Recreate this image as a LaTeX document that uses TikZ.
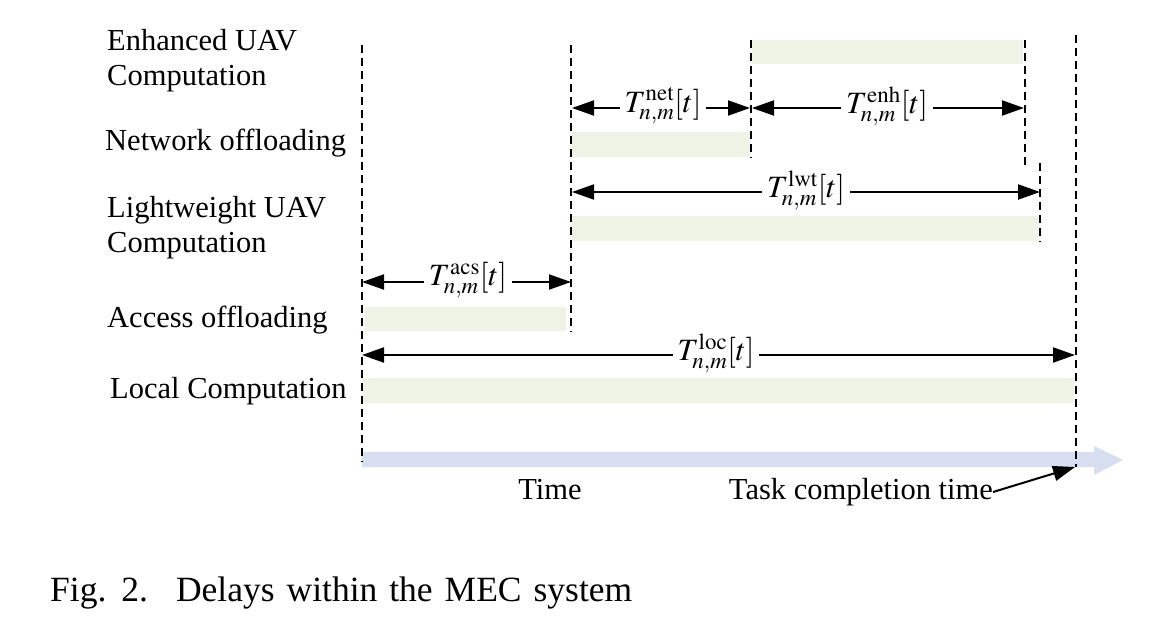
\documentclass[tikz,border=0pt]{standalone}
\usepackage{mathptmx}
\usepackage[no-math]{fontspec}
\setmainfont{Liberation Serif}
\usetikzlibrary{arrows.meta}
\definecolor{barg}{HTML}{EEF3E6}
\definecolor{timec}{HTML}{D7DEF0}
\begin{document}
\begin{tikzpicture}[x=1pt,y=-1pt,
  lab/.style={font=\fontsize{30.5}{35}\selectfont, anchor=west, inner sep=0pt, align=left},
  bar/.style={fill=barg, draw=none, anchor=north west, inner sep=0pt},
  vline/.style={line width=2.1pt, dash pattern=on 8pt off 5pt},
  dimarrow/.style={line width=2pt, {Triangle[length=22pt,width=15pt]}-{Triangle[length=22pt,width=15pt]}},
  dl/.style={fill=white, inner xsep=5pt, inner ysep=1pt, font=\fontsize{31}{35}\selectfont}]
\useasboundingbox (0,0) rectangle (1153,621);
% bars
\node[bar, minimum width=271pt, minimum height=24pt] (benh) at (752,40) {};
\node[bar, minimum width=178pt, minimum height=25pt] (bnet) at (572,132) {};
\node[bar, minimum width=466pt, minimum height=25pt] (blwt) at (572,216) {};
\node[bar, minimum width=201pt, minimum height=24pt] (bacs) at (365,307) {};
\node[bar, minimum width=711pt, minimum height=25pt] (bloc) at (363,378) {};
% time axis
\fill[timec] (362,452) -- (1094,452) -- (1094,446) -- (1123,460) -- (1094,475) -- (1094,467) -- (362,467) -- cycle;
% dashed lines
\coordinate (a1) at (362,45);  \coordinate (b1) at (362,462);
\coordinate (a2) at (571,45);  \coordinate (b2) at (571,332);
\coordinate (a3) at (751,40);  \coordinate (b3) at (751,158);
\coordinate (a4) at (1025,40); \coordinate (b4) at (1025,165);
\coordinate (a5) at (1040,163);\coordinate (b5) at (1040,242);
\coordinate (a6) at (1076,35); \coordinate (b6) at (1076,467);
\draw[vline] (a1) -- (b1);
\draw[vline] (a2) -- (b2);
\draw[vline] (a3) -- (b3);
\draw[vline] (a4) -- (b4);
\draw[vline] (a5) -- (b5);
\draw[vline] (a6) -- (b6);
% dimension arrows
\coordinate (n1) at (572,108); \coordinate (n2) at (750,108);
\coordinate (e1) at (752,108); \coordinate (e2) at (1024,108);
\coordinate (w1) at (572,192); \coordinate (w2) at (1040,192);
\coordinate (s1) at (362,282); \coordinate (s2) at (571,282);
\coordinate (l1) at (362,355); \coordinate (l2) at (1075,355);
\draw[dimarrow] (n1) -- (n2);
\draw[dimarrow] (e1) -- (e2);
\draw[dimarrow] (w1) -- (w2);
\draw[dimarrow] (s1) -- (s2);
\draw[dimarrow] (l1) -- (l2);
\node[dl] (tnet) at (663,106) {$T_{n,m}^{\mathrm{net}}[t]$};
\node[dl] (tenh) at (887,106) {$T_{n,m}^{\mathrm{enh}}[t]$};
\node[dl] (tlwt) at (806,190) {$T_{n,m}^{\mathrm{lwt}}[t]$};
\node[dl] (tacs) at (468,280) {$T_{n,m}^{\mathrm{acs}}[t]$};
\node[dl] (tloc) at (716,353) {$T_{n,m}^{\mathrm{loc}}[t]$};
% left labels
\node[lab] (lenh) at (107,60.5) {Enhanced UAV\\Computation};
\node[lab] (lnet) at (105,143) {Network offloading};
\node[lab] (llwt) at (107,227.5) {Lightweight UAV\\Computation};
\node[lab] (lacs) at (107,320) {Access offloading};
\node[lab] (lloc) at (110,391) {Local Computation};
% bottom labels
\node[lab, anchor=center] (time) at (550,490) {Time};
\node[lab, anchor=east] (tct) at (993,492) {Task completion time};
\coordinate (tip) at (1075,467);
\draw[line width=2pt, -{Triangle[length=22pt,width=15pt]}] (tct.east) -- (tip);
% caption
\node[lab, font=\fontsize{35.5}{40}\selectfont] (cap) at (50,593) {Fig.\hspace{15pt}2.\hspace{28pt}Delays\hspace{12pt}within\hspace{12pt}the\hspace{12pt}MEC\hspace{12pt}system};
\end{tikzpicture}
\end{document}
